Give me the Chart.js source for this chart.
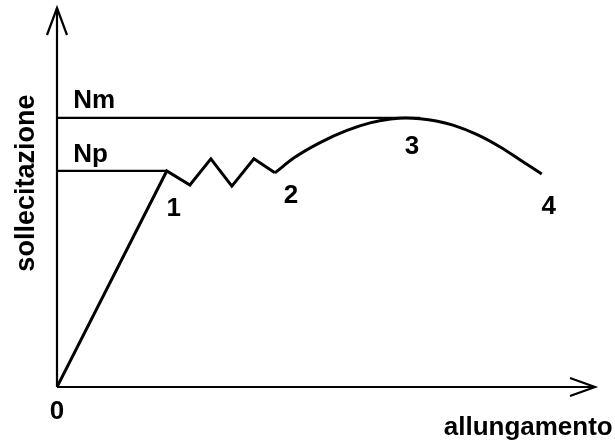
<!DOCTYPE html>
<html>
<head>
<meta charset="utf-8">
<script src="https://cdn.jsdelivr.net/npm/chart.js@4.4.1/dist/chart.umd.min.js"></script>
<style>
  html, body { margin: 0; padding: 0; background: #fff; }
  #wrap { width: 615px; height: 441px; }
</style>
</head>
<body>
<div id="wrap"><canvas id="diagramma"></canvas></div>
<script>
// tratto elastico + snervamento (zig-zag)
const elasticoX = [0, 20.4, 24.7, 28.6, 32.5, 36.6, 40.5];
const elasticoY = [0, 57.0, 53.3, 60.2, 53.0, 60.2, 56.5];

// incrudimento e strizione (curva 2-3-4)
const curvaX = [40.5, 44.2, 48.9, 53.9, 58.2, 62.0, 64.8, 67.5, 70.5, 73.6, 78.1, 82.3, 86.1, 90.1];
const curvaY = [56.5, 60.6, 64.5, 67.7, 69.7, 70.7, 71.0, 70.8, 70.2, 69.1, 66.6, 63.4, 59.9, 56.2];

// livelli Np e Nm
const livelloNp = 57.0;
const livelloNm = 71.0;
const fineNp = 20.4;
const fineNm = 67.5;

// etichette dei punti
const puntiTesto = ['0', '1', '2', '3', '4'];
const puntiX = [0, 21.7, 43.5, 66.0, 91.4];
const puntiY = [-6.1, 47.5, 50.9, 63.9, 48.0];

const livelliTesto = ['Nm', 'Np'];
const livelliX = [3.0, 3.0];
const livelliY = [73.6, 59.4];

const titoloX = 'allungamento';
const titoloY = 'sollecitazione';

const pts = (xs, ys) => xs.map((x, i) => ({ x: x, y: ys[i] }));
const FONT = '"Liberation Sans", Arial, sans-serif';

// assi con freccia + testi
const assiPlugin = {
  id: 'assi',
  afterDatasetsDraw(chart) {
    const { ctx, scales: { x, y } } = chart;
    const x0 = x.getPixelForValue(0), y0 = y.getPixelForValue(0);
    const xEnd = x.getPixelForValue(100), yEnd = y.getPixelForValue(100);
    ctx.save();
    ctx.strokeStyle = '#000';
    ctx.lineWidth = 2.2;
    ctx.lineCap = 'butt';
    ctx.beginPath();
    ctx.moveTo(x0, y0); ctx.lineTo(x0, yEnd);
    ctx.moveTo(x0, y0); ctx.lineTo(xEnd, y0);
    ctx.stroke();
    // frecce
    ctx.beginPath();
    ctx.moveTo(x0 - 10, yEnd + 27); ctx.lineTo(x0, yEnd); ctx.lineTo(x0 + 10, yEnd + 27);
    ctx.moveTo(xEnd - 25, y0 - 9); ctx.lineTo(xEnd, y0); ctx.lineTo(xEnd - 25, y0 + 9);
    ctx.stroke();

    ctx.fillStyle = '#000';
    ctx.font = 'bold 26px ' + FONT;
    ctx.textAlign = 'center';
    ctx.textBaseline = 'middle';
    puntiTesto.forEach((t, i) => {
      ctx.fillText(t, x.getPixelForValue(puntiX[i]), y.getPixelForValue(puntiY[i]) + 2);
    });
    ctx.textAlign = 'left';
    ctx.textBaseline = 'alphabetic';
    livelliTesto.forEach((t, i) => {
      ctx.fillText(t, x.getPixelForValue(livelliX[i]), y.getPixelForValue(livelliY[i]));
    });
    ctx.textAlign = 'right';
    ctx.fillText(titoloX, x.getPixelForValue(103.3), y.getPixelForValue(-12.7));

    ctx.translate(x.getPixelForValue(-5.6), y.getPixelForValue(53.8));
    ctx.rotate(-Math.PI / 2);
    ctx.font = 'bold 27px ' + FONT;
    ctx.textAlign = 'center';
    ctx.textBaseline = 'middle';
    ctx.fillText(titoloY, 0, 0);
    ctx.restore();
  }
};

new Chart(document.getElementById('diagramma'), {
  type: 'scatter',
  data: {
    datasets: [
      {
        label: 'elastico',
        data: pts(elasticoX, elasticoY),
        showLine: true,
        borderColor: '#000',
        borderWidth: 3,
        pointRadius: 0,
        tension: 0
      },
      {
        label: 'curva',
        data: pts(curvaX, curvaY),
        showLine: true,
        borderColor: '#000',
        borderWidth: 3,
        pointRadius: 0,
        cubicInterpolationMode: 'monotone'
      },
      {
        label: 'Np',
        data: [{ x: 0, y: livelloNp }, { x: fineNp, y: livelloNp }],
        showLine: true,
        borderColor: '#000',
        borderWidth: 2.2,
        pointRadius: 0
      },
      {
        label: 'Nm',
        data: [{ x: 0, y: livelloNm }, { x: fineNm, y: livelloNm }],
        showLine: true,
        borderColor: '#000',
        borderWidth: 2.2,
        pointRadius: 0
      }
    ]
  },
  options: {
    responsive: true,
    maintainAspectRatio: false,
    animation: false,
    layout: { padding: { left: 57, right: 20, top: 8, bottom: 54 } },
    scales: {
      x: { type: 'linear', min: 0, max: 100, display: false },
      y: { type: 'linear', min: 0, max: 100, display: false }
    },
    plugins: {
      legend: { display: false },
      tooltip: { enabled: false }
    }
  },
  plugins: [assiPlugin]
});
</script>
</body>
</html>
